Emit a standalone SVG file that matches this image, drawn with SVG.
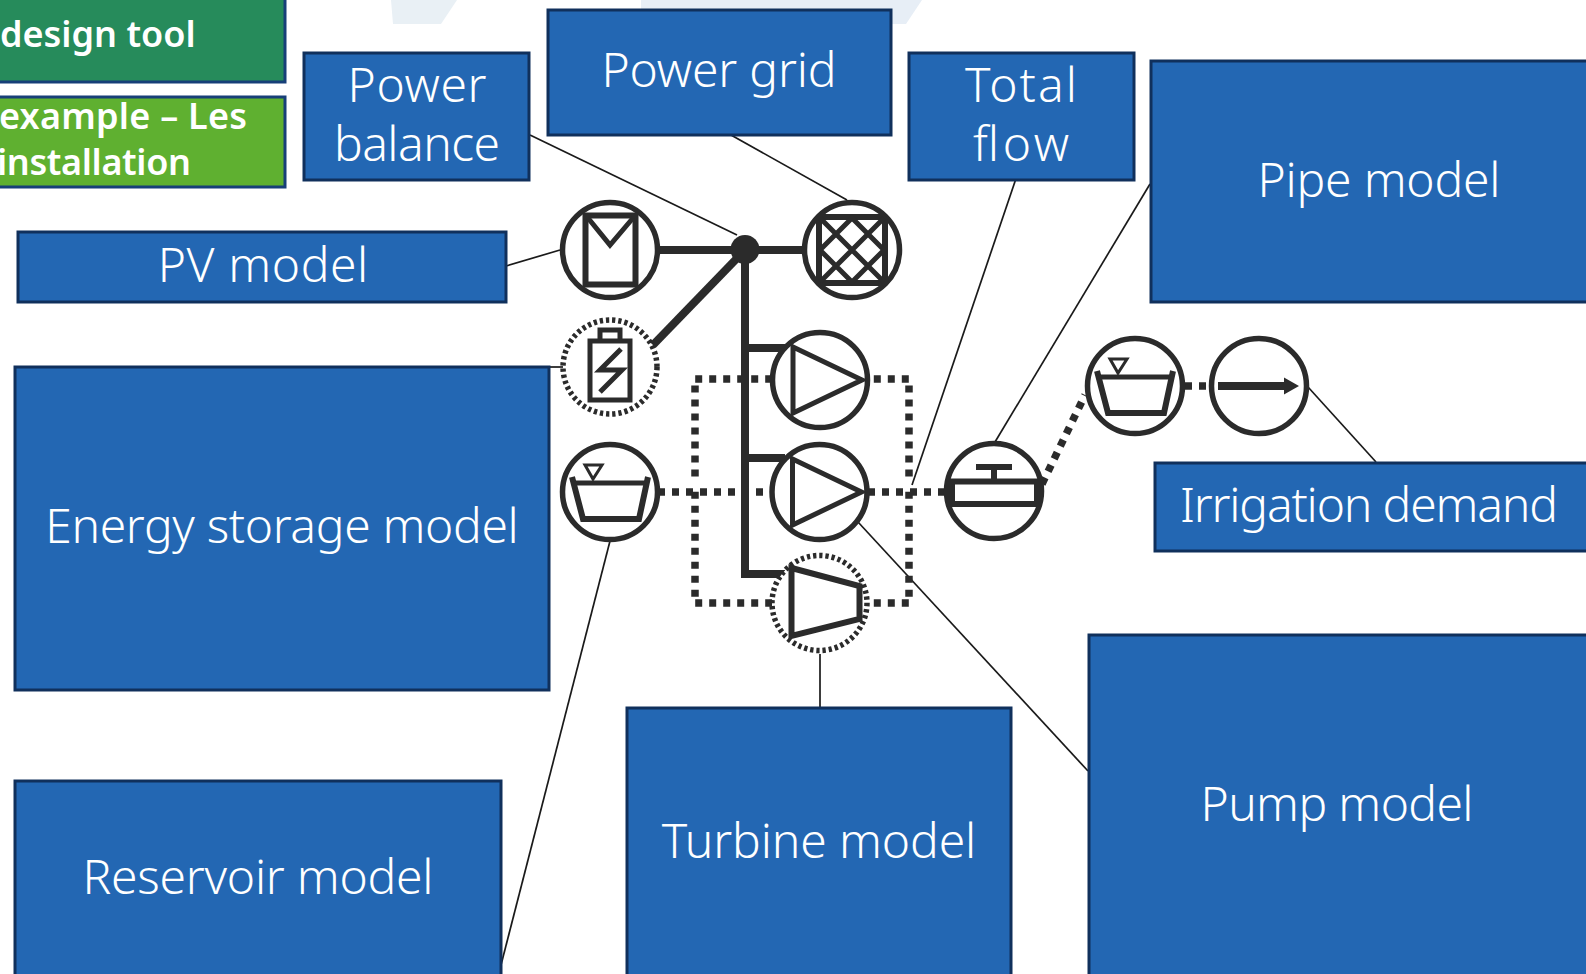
<svg xmlns="http://www.w3.org/2000/svg" width="1586" height="974" viewBox="0 0 1586 974">
<style>
.box{fill:#2367B3;stroke:#10305C;stroke-width:3}
.gbox{stroke:#173F78;stroke-width:3}
.t{font-family:"Noto Sans","Open Sans",sans-serif;font-weight:300;font-size:48px;fill:#fff;text-anchor:middle}
.b{font-family:"Noto Sans","Open Sans",sans-serif;font-weight:600;font-size:36px;fill:#fff}
.thin{fill:none;stroke:#1a1a1a;stroke-width:1.7}
.thick{fill:none;stroke:#2b2b2b;stroke-width:8}
.dot{fill:none;stroke:#2b2b2b;stroke-width:7.5;stroke-dasharray:7 7}
.c{fill:#fff;stroke:#2b2b2b;stroke-width:5.5}
.cd{fill:#fff;stroke:#2b2b2b;stroke-width:5.5;stroke-dasharray:3.300 2.900}
.i{fill:none;stroke:#2b2b2b;stroke-width:5}
.i6{fill:none;stroke:#2b2b2b;stroke-width:6}
.i3{fill:none;stroke:#2b2b2b;stroke-width:3}
</style>
<defs>
<g id="pump"><circle class="c" r="47.500"/><path class="i" d="M-27-33L42 0L-27 33Z"/></g>
<g id="res"><circle class="c" r="47.500"/><path class="i" d="M-37-9H37"/><path class="i6" d="M-38-15L-27 27H29L38-15"/><path class="i3" d="M-25-27H-8L-17-13Z"/></g>
<clipPath id="gc"><circle r="47.500"/></clipPath>
</defs>
<rect width="1586" height="974" fill="#fff"/>
<polygon points="391,0 457,0 441,24 393,24" fill="#E9F0F5"/>
<polygon points="641,0 922,0 906,24 641,24" fill="#E7EEF6"/>
<g id="connectors">
<path class="thin" d="M530 135L737 235"/>
<path class="thin" d="M731 135L847 200"/>
<path class="thin" d="M506 266L560 250"/>
<path class="thin" d="M550 367H563"/>
<path class="thin" d="M610 541L501 965"/>
<path class="thin" d="M820 654V708"/>
<path class="thin" d="M858 522L1088 771"/>
<path class="thin" d="M1015.5 180L912 485"/>
<path class="thin" d="M1150 184L995 442"/>
<path class="thin" d="M1308 387L1376 462"/>
<path class="dot" d="M695.200 379H780M873.800 379H909.500"/>
<path class="dot" d="M695.200 603H780M873.800 603H909.500"/>
<path class="dot" d="M695 385.500V480M695 596.800V491"/>
<path class="dot" d="M909 385.500V480M909 596.800V491"/>
<path class="dot" d="M658 492H780M868 492H955"/>
<path class="dot" d="M1042 484L1085 395"/>
<path class="dot" d="M1185 386H1210"/>
<path class="thick" d="M655 250H805"/>
<path class="thick" d="M653 345L745 250"/>
<path class="thick" d="M745 250V574H785M745 348H785M745 458H785"/>
<circle cx="745" cy="249.500" r="14.500" fill="#2b2b2b"/>
</g>
<g id="n-design"><rect class="gbox" x="-5" y="-5" width="290" height="87" fill="#268B5B"/><text class="b" x="0" y="47">design tool</text></g>
<g id="n-example"><rect class="gbox" x="-5" y="97" width="290" height="90" fill="#5FB030"/><text class="b" x="-1" y="129" textLength="248">example – Les</text><text class="b" x="-3" y="175" textLength="194">installation</text></g>
<g id="n-balance"><rect class="box" x="304" y="53" width="225" height="127"/><text class="t" x="417" y="102" textLength="139">Power</text><text class="t" x="417" y="161" textLength="166">balance</text></g>
<g id="n-grid"><rect class="box" x="548" y="10" width="343" height="125"/><text class="t" x="719" y="87" textLength="235">Power grid</text></g>
<g id="n-flow"><rect class="box" x="909" y="53" width="225" height="127"/><text class="t" x="1021" y="102" textLength="112">Total</text><text class="t" x="1021" y="161" textLength="96">flow</text></g>
<g id="n-pipe"><rect class="box" x="1151" y="61" width="445" height="241"/><text class="t" x="1379" y="197" textLength="243">Pipe model</text></g>
<g id="n-pv"><rect class="box" x="18" y="232" width="488" height="70"/><text class="t" x="263" y="282" textLength="210.500">PV model</text></g>
<g id="n-storage"><rect class="box" x="15" y="367" width="534" height="323"/><text class="t" x="282" y="543" textLength="473.500">Energy storage model</text></g>
<g id="n-irrigation"><rect class="box" x="1155" y="463" width="441" height="88"/><text class="t" x="1369" y="522" textLength="378">Irrigation demand</text></g>
<g id="n-pumpbox"><rect class="box" x="1089" y="635" width="507" height="349"/><text class="t" x="1337" y="821" textLength="273">Pump model</text></g>
<g id="n-turbine"><rect class="box" x="627" y="708" width="384" height="276"/><text class="t" x="819" y="858" textLength="314.500">Turbine model</text></g>
<g id="n-reservoir"><rect class="box" x="15" y="781" width="486" height="203"/><text class="t" x="258" y="894" textLength="351">Reservoir model</text></g>
<g id="pv" transform="translate(610 250)"><circle class="c" r="47.500"/><path class="i6" d="M-24.500-34.500H25.500V34.500H-24.500Z"/><path class="i" d="M-22-32L0-5L23-32"/></g>
<g id="grid" transform="translate(852 250)"><circle class="c" r="47.500"/><g clip-path="url(#gc)"><path class="i6" d="M-33-33H33V33H-33Z"/><path class="i" d="M0-32L32 0L0 32L-32 0ZM-32-32L32 32M32-32L-32 32"/></g></g>
<g id="battery" transform="translate(610 367)"><circle class="cd" r="47"/><path class="i" d="M-20-26H20V33H-20ZM-10-26V-37H10V-26"/><path class="i" d="M11-18L-10 3H12L-10 25"/></g>
<use id="pump1" href="#pump" x="820" y="380"/>
<use id="pump2" href="#pump" x="819.500" y="492"/>
<g id="turbine" transform="translate(819.500 603)"><circle class="cd" r="47.500"/><path class="i6" d="M-28-35L40-17V16L-28 33Z"/></g>
<use id="reservoir1" href="#res" x="610" y="492"/>
<g id="valve" transform="translate(994 491)"><circle class="c" r="47.500"/><path class="i6" d="M-42-9.500H43V13H-42ZM0-9.500V-24"/><path d="M-18-24H18" class="i6"/></g>
<use id="reservoir2" href="#res" x="1135" y="386"/>
<g id="demand" transform="translate(1259 386)"><circle class="c" r="47.500"/><path d="M-41-4H25V-8.500L40 0L25 8.500V4H-41Z" fill="#2b2b2b"/></g>
</svg>
